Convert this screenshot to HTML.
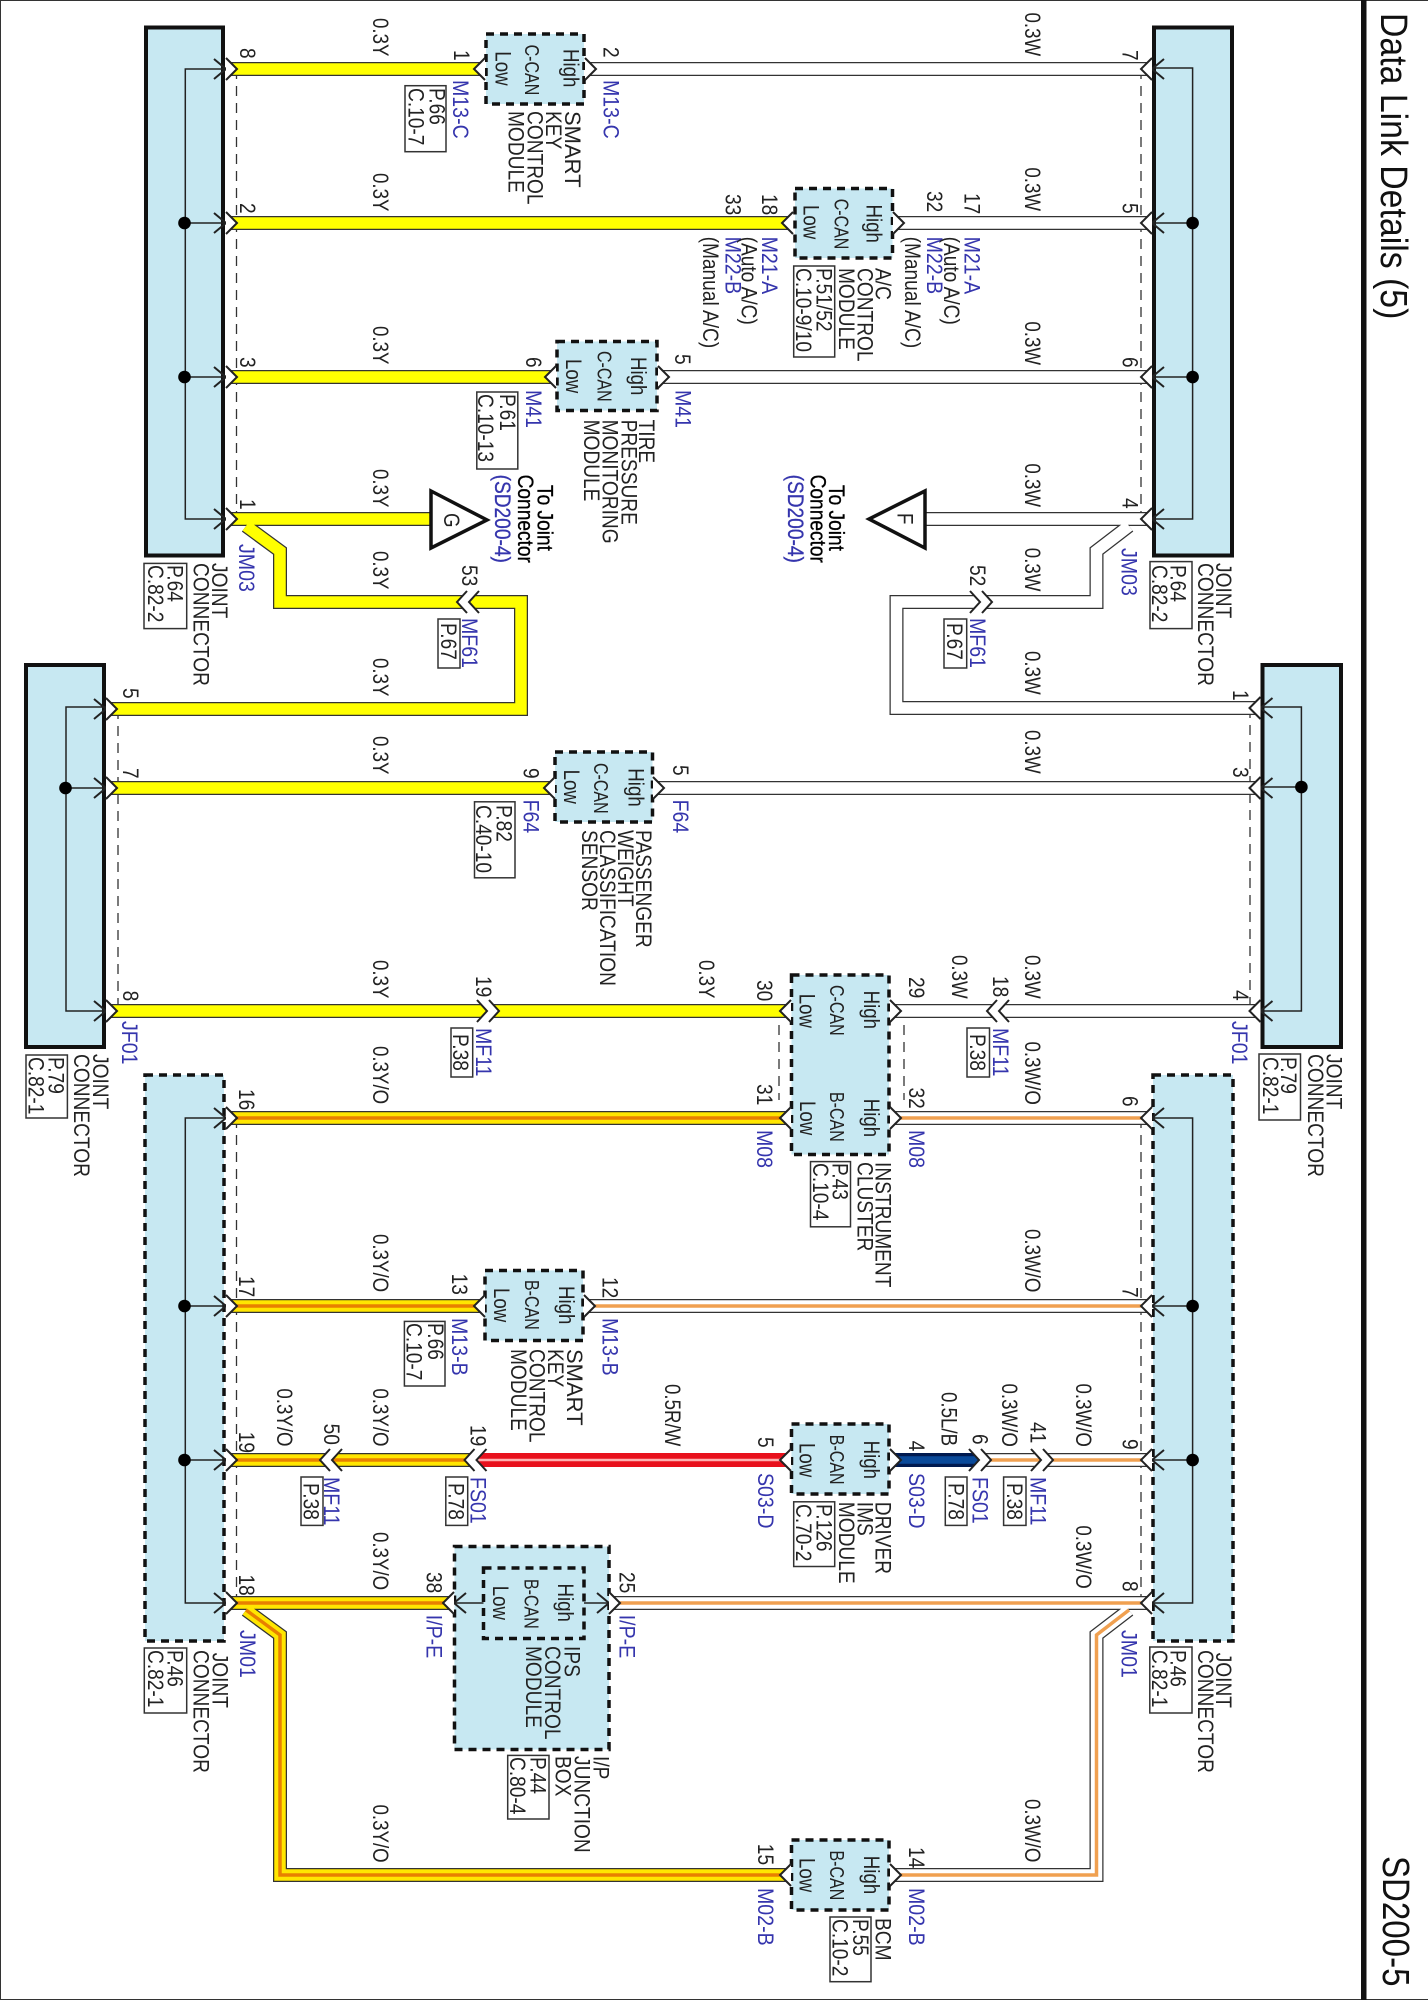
<!DOCTYPE html>
<html><head><meta charset="utf-8"><title>Data Link Details (5)</title>
<style>
html,body{margin:0;padding:0;background:#fff}
svg{display:block}
text{font-family:"Liberation Sans",sans-serif;font-size:22px;fill:#222}
.b{fill:#3535ad}
.s{font-size:20px}
.h{font-size:38px;fill:#111}
.k{fill:#000;stroke:#000;stroke-width:.3}
.c{fill:#c7e8f2;stroke:#111;stroke-width:4}
.d{fill:#c7e8f2;stroke:#111;stroke-width:3.5;stroke-dasharray:8 6}
.r{fill:#fff;stroke:#333;stroke-width:1.5}
.l{fill:none;stroke:#222;stroke-width:1.5}
.q{fill:none;stroke:#333;stroke-width:1.3;stroke-dasharray:10 7}
</style></head><body>
<svg xmlns="http://www.w3.org/2000/svg" width="1428" height="2000" viewBox="0 0 1428 2000">
<defs>
<g id="kL"><path d="M0-11L-11 0L0 11Z" fill="#fff"/><path d="M0-11L-11 0L0 11" fill="none" stroke="#222" stroke-width="2"/></g>
<g id="kR"><path d="M0-11L11 0L0 11Z" fill="#fff"/><path d="M0-11L11 0L0 11" fill="none" stroke="#222" stroke-width="2"/></g>
<path id="aR" d="M-12-10L0 0L-12 10" fill="none" stroke="#222" stroke-width="2"/>
<path id="aL" d="M12-10L0 0L12 10" fill="none" stroke="#222" stroke-width="2"/>
<g id="dL"><path d="M0 0L10-11H22L12 0L22 11H10Z" fill="#fff"/><path d="M10-11L0 0L10 11M22-11L12 0L22 11" fill="none" stroke="#222" stroke-width="2"/></g>
<g id="dR"><path d="M0 0L-10-11H2L12 0L2 11H-10Z" fill="#fff"/><path d="M-10-11L0 0L-10 11M2-11L12 0L2 11" fill="none" stroke="#222" stroke-width="2"/></g>
<g id="Y" fill="none"><path d="M228 69H485M228 223H793M228 377H556M228 519H431M246 526L280 551V602H467M469 602H521V709H108M108 788H555M108 1011H791"/></g>
<g id="YO" fill="none"><path d="M228 1118H791M228 1306H485M228 1460H474.5M228 1603H454M246 1610L280 1635V1875H791"/></g>
<g id="W" fill="none"><path d="M585 69H1150M893 223H1150M658 377H1150M925 519H1150M1129 526L1096.5 551V602H980M982 602H896.5V708H1258M653 788H1258M890 1011H1258"/></g>
<g id="WO" fill="none"><path d="M890 1118H1150M584 1306H1150M981 1460H1150M609 1603H1150M890 1875H1096.5V1635L1129 1610"/></g>
</defs>
<rect width="1428" height="2000" fill="#fff"/>
<path d="M0 .5H1428M.5 0V2000M0 1999.5H1428" stroke="#333" fill="none"/>
<rect x="1361" y="0" width="5.5" height="2000" fill="#111"/>

<!-- dashed pin guides -->
<path class="q" d="M236.5 69V519M1141 69V519M118 709V1011M1250 708V1011M236.5 1118V1603M1141 1118V1603M779 1025V1100M904 1025V1100"/>

<!-- wires -->
<use href="#Y" stroke="#333" stroke-width="14"/><use href="#Y" stroke="#ffff00" stroke-width="11.5"/>
<use href="#YO" stroke="#333" stroke-width="14"/><use href="#YO" stroke="#ffe600" stroke-width="11.5"/><use href="#YO" stroke="#e88000" stroke-width="3.5"/>
<use href="#W" stroke="#333" stroke-width="14"/><use href="#W" stroke="#fff" stroke-width="11.5"/>
<use href="#WO" stroke="#333" stroke-width="14"/><use href="#WO" stroke="#fff" stroke-width="11.5"/><use href="#WO" stroke="#f0a050" stroke-width="3.5"/>
<path d="M476 1460H791" stroke="#e8101c" stroke-width="14" fill="none"/><path d="M476 1460H791" stroke="#ffb0b0" stroke-width="2.5" fill="none"/>
<path d="M890 1460H979" stroke="#001a50" stroke-width="14" fill="none"/><path d="M890 1460H979" stroke="#0a4a9a" stroke-width="7.5" fill="none"/>

<!-- connector blocks -->
<rect class="c" x="146" y="27.5" width="77" height="528"/>
<rect class="c" x="1154" y="27.5" width="78" height="528"/>
<rect class="c" x="26" y="665" width="78" height="382"/>
<rect class="c" x="1262.5" y="665" width="78.5" height="382"/>
<rect class="d" x="145" y="1075" width="79" height="566"/>
<rect class="d" x="1153" y="1075" width="80" height="566"/>

<!-- modules -->
<rect class="d" x="486" y="34" width="98" height="70"/>
<rect class="d" x="795" y="188.5" width="97.500" height="69.500"/>
<rect class="d" x="557" y="341.500" width="100" height="69"/>
<rect class="d" x="555" y="752" width="97.500" height="70"/>
<rect class="d" x="791.500" y="975" width="97.500" height="179.500"/>
<rect class="d" x="485" y="1270.500" width="98" height="70"/>
<rect class="d" x="791.500" y="1424" width="97.500" height="70"/>
<rect class="d" x="454.500" y="1546.500" width="154.500" height="203"/>
<rect class="d" x="483.500" y="1568" width="100.500" height="70.500"/>
<rect class="d" x="791.500" y="1840" width="97.500" height="70"/>

<!-- internal bus lines -->
<path class="l" d="M226 69H185.300V519H226M185.300 223H226M185.300 377H226"/>
<path class="l" d="M1152 68H1192.600V519H1152M1192.600 223H1152M1192.600 377H1152"/>
<path class="l" d="M106 707H66V1011H106M66 788H106"/>
<path class="l" d="M1260.500 707H1301.400V1011H1260.500M1301.400 787H1260.500"/>
<path class="l" d="M226 1118H185.300V1603H226M185.300 1306H226M185.300 1460H226"/>
<path class="l" d="M1152 1118H1192.600V1603H1152M1192.600 1306H1152M1192.600 1460H1152"/>
<path class="l" d="M483.500 1603H454M584 1603H609"/>
<g fill="#000">
<circle cx="184.500" cy="223" r="6.300"/><circle cx="184.500" cy="377" r="6.300"/>
<circle cx="1192.600" cy="223" r="6.300"/><circle cx="1192.600" cy="377" r="6.300"/>
<circle cx="65.500" cy="788" r="6.300"/><circle cx="1301.400" cy="787" r="6.300"/>
<circle cx="184.500" cy="1306" r="6.300"/><circle cx="184.500" cy="1460" r="6.300"/>
<circle cx="1192.600" cy="1306" r="6.300"/><circle cx="1192.600" cy="1460" r="6.300"/>
</g>

<!-- pins -->
<use href="#aR" x="226" y="69"/><use href="#kR" x="226" y="69"/>
<use href="#aR" x="226" y="223"/><use href="#kR" x="226" y="223"/>
<use href="#aR" x="226" y="377"/><use href="#kR" x="226" y="377"/>
<use href="#aR" x="226" y="519"/><use href="#kR" x="226" y="519"/>
<use href="#aL" x="1152" y="69"/><use href="#kL" x="1152" y="69"/>
<use href="#aL" x="1152" y="223"/><use href="#kL" x="1152" y="223"/>
<use href="#aL" x="1152" y="377"/><use href="#kL" x="1152" y="377"/>
<use href="#aL" x="1152" y="519"/><use href="#kL" x="1152" y="519"/>
<use href="#aR" x="106" y="709"/><use href="#kR" x="106" y="709"/>
<use href="#aR" x="106" y="788"/><use href="#kR" x="106" y="788"/>
<use href="#aR" x="106" y="1011"/><use href="#kR" x="106" y="1011"/>
<use href="#aL" x="1260.500" y="708"/><use href="#kL" x="1260.500" y="708"/>
<use href="#aL" x="1260.500" y="788"/><use href="#kL" x="1260.500" y="788"/>
<use href="#aL" x="1260.500" y="1011"/><use href="#kL" x="1260.500" y="1011"/>
<use href="#aR" x="226" y="1118"/><use href="#kR" x="226" y="1118"/>
<use href="#aR" x="226" y="1306"/><use href="#kR" x="226" y="1306"/>
<use href="#aR" x="226" y="1460"/><use href="#kR" x="226" y="1460"/>
<use href="#aR" x="226" y="1603"/><use href="#kR" x="226" y="1603"/>
<use href="#aL" x="1152" y="1118"/><use href="#kL" x="1152" y="1118"/>
<use href="#aL" x="1152" y="1306"/><use href="#kL" x="1152" y="1306"/>
<use href="#aL" x="1152" y="1460"/><use href="#kL" x="1152" y="1460"/>
<use href="#aL" x="1152" y="1603"/><use href="#kL" x="1152" y="1603"/>
<use href="#kL" x="485" y="69"/><use href="#kR" x="585" y="69"/>
<use href="#kL" x="793" y="223"/><use href="#kR" x="893" y="223"/>
<use href="#kL" x="556" y="377"/><use href="#kR" x="658" y="377"/>
<use href="#kL" x="555" y="788"/><use href="#kR" x="653" y="788"/>
<use href="#kL" x="791" y="1011"/><use href="#kR" x="890" y="1011"/>
<use href="#kL" x="791" y="1118"/><use href="#kR" x="890" y="1118"/>
<use href="#kL" x="485" y="1306"/><use href="#kR" x="584" y="1306"/>
<use href="#kL" x="791" y="1460"/><use href="#kR" x="890" y="1460"/>
<use href="#aL" x="454" y="1603"/><use href="#kL" x="454" y="1603"/>
<use href="#aR" x="609" y="1603"/><use href="#kR" x="609" y="1603"/>
<use href="#kL" x="791" y="1875"/><use href="#kR" x="890" y="1875"/>

<!-- inline connectors -->
<use href="#dL" x="457" y="602"/><use href="#dR" x="980" y="602"/>
<use href="#dR" x="487" y="1011"/><use href="#dL" x="987" y="1011"/>
<use href="#dL" x="320" y="1460"/><use href="#dL" x="464.500" y="1460"/>
<use href="#dR" x="979" y="1460"/><use href="#dR" x="1041" y="1460"/>

<!-- triangles -->
<path d="M431 491L487 520L431 548Z" fill="#fff" stroke="#111" stroke-width="3.500"/>
<path d="M925 491L869 519L925 548Z" fill="#fff" stroke="#111" stroke-width="3.500"/>

<!-- reference boxes -->
<rect class="r" x="405" y="85.700" width="41" height="66"/>
<rect class="r" x="793.700" y="266" width="41" height="91"/>
<rect class="r" x="476.800" y="392" width="41" height="77"/>
<rect class="r" x="144" y="563.400" width="42.700" height="65.200"/>
<rect class="r" x="1150" y="561.600" width="42" height="67"/>
<rect class="r" x="438" y="619" width="22" height="49"/>
<rect class="r" x="944" y="619" width="22.700" height="49"/>
<rect class="r" x="474.500" y="801.800" width="40.500" height="76"/>
<rect class="r" x="451" y="1028" width="21.700" height="49"/>
<rect class="r" x="967" y="1028" width="22.500" height="49"/>
<rect class="r" x="26" y="1055" width="41.400" height="63"/>
<rect class="r" x="1259" y="1054" width="41.500" height="66"/>
<rect class="r" x="810.500" y="1161.600" width="40" height="65.200"/>
<rect class="r" x="404.400" y="1321.400" width="40.600" height="64.600"/>
<rect class="r" x="301" y="1477" width="22" height="48.400"/>
<rect class="r" x="445.800" y="1477" width="21.900" height="48.400"/>
<rect class="r" x="945.300" y="1477" width="21.700" height="48.400"/>
<rect class="r" x="1003.600" y="1477" width="22.400" height="48.400"/>
<rect class="r" x="793.700" y="1501.800" width="41" height="64.700"/>
<rect class="r" x="144.300" y="1648" width="42.400" height="65"/>
<rect class="r" x="1149.800" y="1647" width="42.200" height="66"/>
<rect class="r" x="507.700" y="1755.400" width="41.300" height="63.600"/>
<rect class="r" x="830" y="1917" width="41" height="64.700"/>

<!-- title -->
<text class="h" transform="matrix(0 .89 -1 0 1381 13)">Data Link Details (5)</text>
<text class="h" transform="matrix(0 .87 -1 0 1383 1856)">SD200-5</text>

<!-- wire size labels -->
<text transform="matrix(0 .85 -1 0 373 18)">0.3Y</text>
<text transform="matrix(0 .85 -1 0 373 173)">0.3Y</text>
<text transform="matrix(0 .85 -1 0 373 326)">0.3Y</text>
<text transform="matrix(0 .85 -1 0 373 469)">0.3Y</text>
<text transform="matrix(0 .85 -1 0 373 551)">0.3Y</text>
<text transform="matrix(0 .85 -1 0 373 658)">0.3Y</text>
<text transform="matrix(0 .85 -1 0 373 736)">0.3Y</text>
<text transform="matrix(0 .85 -1 0 373 960)">0.3Y</text>
<text transform="matrix(0 .85 -1 0 699 960)">0.3Y</text>
<text transform="matrix(0 .85 -1 0 1025 12.500)">0.3W</text>
<text transform="matrix(0 .85 -1 0 1025 167.400)">0.3W</text>
<text transform="matrix(0 .85 -1 0 1025 321.400)">0.3W</text>
<text transform="matrix(0 .85 -1 0 1025 463.400)">0.3W</text>
<text transform="matrix(0 .85 -1 0 1025 547.800)">0.3W</text>
<text transform="matrix(0 .85 -1 0 1025 651)">0.3W</text>
<text transform="matrix(0 .85 -1 0 1025 730)">0.3W</text>
<text transform="matrix(0 .85 -1 0 1025 955)">0.3W</text>
<text transform="matrix(0 .85 -1 0 952 955)">0.3W</text>
<text transform="matrix(0 .85 -1 0 373 1046)">0.3Y/O</text>
<text transform="matrix(0 .85 -1 0 1025 1041.500)">0.3W/O</text>
<text transform="matrix(0 .85 -1 0 373 1234)">0.3Y/O</text>
<text transform="matrix(0 .85 -1 0 1025 1229)">0.3W/O</text>
<text transform="matrix(0 .85 -1 0 277 1388.400)">0.3Y/O</text>
<text transform="matrix(0 .85 -1 0 373 1388.400)">0.3Y/O</text>
<text transform="matrix(0 .85 -1 0 665 1384)">0.5R/W</text>
<text transform="matrix(0 .85 -1 0 941.700 1392)">0.5L/B</text>
<text transform="matrix(0 .85 -1 0 1001.800 1383.500)">0.3W/O</text>
<text transform="matrix(0 .85 -1 0 1076 1383.500)">0.3W/O</text>
<text transform="matrix(0 .85 -1 0 1076 1525.400)">0.3W/O</text>
<text transform="matrix(0 .85 -1 0 373 1532)">0.3Y/O</text>
<text transform="matrix(0 .85 -1 0 373 1804.500)">0.3Y/O</text>
<text transform="matrix(0 .85 -1 0 1025 1799)">0.3W/O</text>

<!-- pin numbers -->
<text transform="matrix(0 .87 -1 0 240 48)">8</text>
<text transform="matrix(0 .87 -1 0 240 203)">2</text>
<text transform="matrix(0 .87 -1 0 240 357)">3</text>
<text transform="matrix(0 .87 -1 0 240 499)">1</text>
<text transform="matrix(0 .87 -1 0 454 50)">1</text>
<text transform="matrix(0 .87 -1 0 603.500 47)">2</text>
<text transform="matrix(0 .87 -1 0 1122.500 50)">7</text>
<text transform="matrix(0 .87 -1 0 1122.500 203)">5</text>
<text transform="matrix(0 .87 -1 0 1122.500 357)">6</text>
<text transform="matrix(0 .87 -1 0 1122.500 498)">4</text>
<text transform="matrix(0 .87 -1 0 761.800 194)">18</text>
<text transform="matrix(0 .87 -1 0 725.400 194)">33</text>
<text transform="matrix(0 .87 -1 0 927 191)">32</text>
<text transform="matrix(0 .87 -1 0 964.500 193)">17</text>
<text transform="matrix(0 .87 -1 0 526 357)">6</text>
<text transform="matrix(0 .87 -1 0 675 354)">5</text>
<text transform="matrix(0 .87 -1 0 462 565)">53</text>
<text transform="matrix(0 .87 -1 0 970 565)">52</text>
<text transform="matrix(0 .87 -1 0 123 688)">5</text>
<text transform="matrix(0 .87 -1 0 123 768)">7</text>
<text transform="matrix(0 .87 -1 0 123 990.600)">8</text>
<text transform="matrix(0 .87 -1 0 1233 690)">1</text>
<text transform="matrix(0 .87 -1 0 1233 767)">3</text>
<text transform="matrix(0 .87 -1 0 1233 990)">4</text>
<text transform="matrix(0 .87 -1 0 523.700 768)">9</text>
<text transform="matrix(0 .87 -1 0 673 765)">5</text>
<text transform="matrix(0 .87 -1 0 476 976)">19</text>
<text transform="matrix(0 .87 -1 0 993 976)">18</text>
<text transform="matrix(0 .87 -1 0 757 980)">30</text>
<text transform="matrix(0 .87 -1 0 757 1084)">31</text>
<text transform="matrix(0 .87 -1 0 909 977)">29</text>
<text transform="matrix(0 .87 -1 0 909 1087.500)">32</text>
<text transform="matrix(0 .87 -1 0 239 1089)">16</text>
<text transform="matrix(0 .87 -1 0 1122.500 1096)">6</text>
<text transform="matrix(0 .87 -1 0 239 1276)">17</text>
<text transform="matrix(0 .87 -1 0 1122.500 1287)">7</text>
<text transform="matrix(0 .87 -1 0 452 1273.600)">13</text>
<text transform="matrix(0 .87 -1 0 602.500 1277)">12</text>
<text transform="matrix(0 .87 -1 0 239 1431.700)">19</text>
<text transform="matrix(0 .87 -1 0 324 1423.600)">50</text>
<text transform="matrix(0 .87 -1 0 470.400 1425)">19</text>
<text transform="matrix(0 .87 -1 0 758 1437)">5</text>
<text transform="matrix(0 .87 -1 0 909 1440.600)">4</text>
<text transform="matrix(0 .87 -1 0 972.600 1434)">6</text>
<text transform="matrix(0 .87 -1 0 1030.500 1422)">41</text>
<text transform="matrix(0 .87 -1 0 1122.500 1439)">9</text>
<text transform="matrix(0 .87 -1 0 239 1574.500)">18</text>
<text transform="matrix(0 .87 -1 0 426.700 1572)">38</text>
<text transform="matrix(0 .87 -1 0 619.300 1572)">25</text>
<text transform="matrix(0 .87 -1 0 1122.500 1581)">8</text>
<text transform="matrix(0 .87 -1 0 758 1843.800)">15</text>
<text transform="matrix(0 .87 -1 0 909 1847)">14</text>

<!-- blue connector ids -->
<text class="b" transform="matrix(0 .89 -1 0 453 80)">M13-C</text>
<text class="b" transform="matrix(0 .89 -1 0 603.500 80)">M13-C</text>
<text class="b" transform="matrix(0 .89 -1 0 761.800 236.600)">M21-A</text>
<text class="b" transform="matrix(0 .89 -1 0 725.400 236.600)">M22-B</text>
<text class="b" transform="matrix(0 .89 -1 0 964.500 236.600)">M21-A</text>
<text class="b" transform="matrix(0 .89 -1 0 927 236.600)">M22-B</text>
<text class="b" transform="matrix(0 .89 -1 0 526 390)">M41</text>
<text class="b" transform="matrix(0 .89 -1 0 675.300 390)">M41</text>
<text class="b" transform="matrix(0 .89 -1 0 239 544)">JM03</text>
<text class="b" transform="matrix(0 .89 -1 0 1121.600 548)">JM03</text>
<text class="b" style="stroke:#3535ad;stroke-width:.3" transform="matrix(0 .87 -1 0 495 474.600)">(SD200-4)</text>
<text class="b" style="stroke:#3535ad;stroke-width:.3" transform="matrix(0 .87 -1 0 788 474.600)">(SD200-4)</text>
<text class="b" transform="matrix(0 .89 -1 0 462 618)">MF61</text>
<text class="b" transform="matrix(0 .89 -1 0 970 618)">MF61</text>
<text class="b" transform="matrix(0 .89 -1 0 523.700 799.600)">F64</text>
<text class="b" transform="matrix(0 .89 -1 0 673 799.600)">F64</text>
<text class="b" transform="matrix(0 .89 -1 0 122 1021)">JF01</text>
<text class="b" transform="matrix(0 .89 -1 0 1232 1021)">JF01</text>
<text class="b" transform="matrix(0 .89 -1 0 476 1028)">MF11</text>
<text class="b" transform="matrix(0 .89 -1 0 993 1028)">MF11</text>
<text class="b" transform="matrix(0 .89 -1 0 757 1130)">M08</text>
<text class="b" transform="matrix(0 .89 -1 0 909 1130)">M08</text>
<text class="b" transform="matrix(0 .89 -1 0 452 1318)">M13-B</text>
<text class="b" transform="matrix(0 .89 -1 0 602.500 1318)">M13-B</text>
<text class="b" transform="matrix(0 .89 -1 0 324 1477)">MF11</text>
<text class="b" transform="matrix(0 .89 -1 0 470.400 1477)">FS01</text>
<text class="b" transform="matrix(0 .89 -1 0 758 1473)">S03-D</text>
<text class="b" transform="matrix(0 .89 -1 0 909 1473)">S03-D</text>
<text class="b" transform="matrix(0 .89 -1 0 972.600 1477)">FS01</text>
<text class="b" transform="matrix(0 .89 -1 0 1030.500 1477)">MF11</text>
<text class="b" transform="matrix(0 .89 -1 0 426.700 1614.700)">I/P-E</text>
<text class="b" transform="matrix(0 .89 -1 0 619.300 1614.700)">I/P-E</text>
<text class="b" transform="matrix(0 .89 -1 0 240 1630)">JM01</text>
<text class="b" transform="matrix(0 .89 -1 0 1121.600 1630)">JM01</text>
<text class="b" transform="matrix(0 .89 -1 0 758 1888)">M02-B</text>
<text class="b" transform="matrix(0 .89 -1 0 909 1888)">M02-B</text>

<!-- module inner labels -->
<text transform="matrix(0 .85 -1 0 563.300 49)">High</text><text class="s" transform="matrix(0 .8 -1 0 525 44.600)">C-CAN</text><text transform="matrix(0 .85 -1 0 495.500 51.300)">Low</text>
<text transform="matrix(0 .85 -1 0 866.500 204.500)">High</text><text class="s" transform="matrix(0 .8 -1 0 834.700 198.700)">C-CAN</text><text transform="matrix(0 .85 -1 0 803.700 205)">Low</text>
<text transform="matrix(0 .85 -1 0 631 357)">High</text><text class="s" transform="matrix(0 .8 -1 0 597.500 351)">C-CAN</text><text transform="matrix(0 .85 -1 0 566 359)">Low</text>
<text transform="matrix(0 .85 -1 0 628.400 768.300)">High</text><text class="s" transform="matrix(0 .8 -1 0 594 763)">C-CAN</text><text transform="matrix(0 .85 -1 0 563.800 769.600)">Low</text>
<text transform="matrix(0 .85 -1 0 864 990.600)">High</text><text class="s" transform="matrix(0 .8 -1 0 830 985)">C-CAN</text><text transform="matrix(0 .85 -1 0 799.600 993.700)">Low</text>
<text transform="matrix(0 .85 -1 0 864 1098.700)">High</text><text class="s" transform="matrix(0 .8 -1 0 830 1092)">B-CAN</text><text transform="matrix(0 .85 -1 0 800 1101)">Low</text>
<text transform="matrix(0 .85 -1 0 559 1286)">High</text><text class="s" transform="matrix(0 .8 -1 0 525 1280)">B-CAN</text><text transform="matrix(0 .85 -1 0 494 1288)">Low</text>
<text transform="matrix(0 .85 -1 0 864 1440.600)">High</text><text class="s" transform="matrix(0 .8 -1 0 830 1434.800)">B-CAN</text><text transform="matrix(0 .85 -1 0 799.600 1443)">Low</text>
<text transform="matrix(0 .85 -1 0 558 1583.500)">High</text><text class="s" transform="matrix(0 .8 -1 0 524.600 1579)">B-CAN</text><text transform="matrix(0 .85 -1 0 493 1585.700)">Low</text>
<text transform="matrix(0 .85 -1 0 864 1855.800)">High</text><text class="s" transform="matrix(0 .8 -1 0 830 1850.500)">B-CAN</text><text transform="matrix(0 .85 -1 0 799.600 1858)">Low</text>
<text transform="matrix(0 .85 -1 0 444 513)">G</text>
<text transform="matrix(0 .85 -1 0 897.500 513)">F</text>

<!-- component names -->
<text transform="matrix(0 1 -1 0 565 111)">SMART</text><text transform="matrix(0 .87 -1 0 546 111)">KEY</text><text transform="matrix(0 .87 -1 0 527.500 111)">CONTROL</text><text transform="matrix(0 .87 -1 0 508.700 111)">MODULE</text>
<text transform="matrix(0 .87 -1 0 875.700 268)">A/C</text><text transform="matrix(0 .87 -1 0 857.400 268)">CONTROL</text><text transform="matrix(0 .87 -1 0 839 268)">MODULE</text>
<text transform="matrix(0 .87 -1 0 639 419.600)">TIRE</text><text transform="matrix(0 .87 -1 0 621.600 419.600)">PRESSURE</text><text transform="matrix(0 .87 -1 0 602.500 419.600)">MONITORING</text><text transform="matrix(0 .87 -1 0 584 419.600)">MODULE</text>
<text class="k" transform="matrix(0 .87 -1 0 537.300 485)">To Joint</text><text class="k" transform="matrix(0 .87 -1 0 517.800 474.600)">Connector</text>
<text class="k" transform="matrix(0 .87 -1 0 829 485)">To Joint</text><text class="k" transform="matrix(0 .87 -1 0 810.500 474.600)">Connector</text>
<text transform="matrix(0 .87 -1 0 944 236.600)">(Auto A/C)</text><text transform="matrix(0 .87 -1 0 905 236.600)">(Manual A/C)</text>
<text transform="matrix(0 .87 -1 0 741.300 236.600)">(Auto A/C)</text><text transform="matrix(0 .87 -1 0 703 236.600)">(Manual A/C)</text>
<text transform="matrix(0 .87 -1 0 212 563)">JOINT</text><text transform="matrix(0 .87 -1 0 193.500 563)">CONNECTOR</text>
<text transform="matrix(0 .87 -1 0 1216 563)">JOINT</text><text transform="matrix(0 .87 -1 0 1198 563)">CONNECTOR</text>
<text transform="matrix(0 .87 -1 0 93 1054)">JOINT</text><text transform="matrix(0 .87 -1 0 74 1054)">CONNECTOR</text>
<text transform="matrix(0 .87 -1 0 1326.500 1054)">JOINT</text><text transform="matrix(0 .87 -1 0 1308 1054)">CONNECTOR</text>
<text transform="matrix(0 .87 -1 0 636 830)">PASSENGER</text><text transform="matrix(0 .87 -1 0 618 830)">WEIGHT</text><text transform="matrix(0 .87 -1 0 600 830)">CLASSIFICATION</text><text transform="matrix(0 .87 -1 0 582 830)">SENSOR</text>
<text transform="matrix(0 .87 -1 0 875.700 1162)">INSTRUMENT</text><text transform="matrix(0 .87 -1 0 857.400 1162)">CLUSTER</text>
<text transform="matrix(0 1 -1 0 567 1349)">SMART</text><text transform="matrix(0 .87 -1 0 548 1349)">KEY</text><text transform="matrix(0 .87 -1 0 529.600 1349)">CONTROL</text><text transform="matrix(0 .87 -1 0 511 1349)">MODULE</text>
<text transform="matrix(0 .87 -1 0 875.700 1501.800)">DRIVER</text><text transform="matrix(0 .87 -1 0 857.400 1501.800)">IMS</text><text transform="matrix(0 .87 -1 0 839 1501.800)">MODULE</text>
<text transform="matrix(0 .87 -1 0 564.600 1646)">IPS</text><text transform="matrix(0 .87 -1 0 545 1646)">CONTROL</text><text transform="matrix(0 .87 -1 0 526 1646)">MODULE</text>
<text transform="matrix(0 .87 -1 0 593.400 1756)">I/P</text><text transform="matrix(0 .87 -1 0 574.700 1756)">JUNCTION</text><text transform="matrix(0 .87 -1 0 555.600 1756)">BOX</text>
<text transform="matrix(0 .87 -1 0 212.600 1652.700)">JOINT</text><text transform="matrix(0 .87 -1 0 193.500 1650)">CONNECTOR</text>
<text transform="matrix(0 .87 -1 0 1216 1652.700)">JOINT</text><text transform="matrix(0 .87 -1 0 1198 1650)">CONNECTOR</text>
<text transform="matrix(0 .87 -1 0 875.700 1918)">BCM</text>

<!-- reference box text -->
<text transform="matrix(0 .87 -1 0 429.400 88)">P.66</text><text transform="matrix(0 .87 -1 0 408.500 88)">C.10-7</text>
<text transform="matrix(0 .87 -1 0 816.500 268)">P.51/52</text><text transform="matrix(0 .87 -1 0 796 268)">C.10-9/10</text>
<text transform="matrix(0 .87 -1 0 500 394)">P.61</text><text transform="matrix(0 .87 -1 0 478 394)">C.10-13</text>
<text transform="matrix(0 .87 -1 0 167.600 565)">P.64</text><text transform="matrix(0 .87 -1 0 148 565)">C.82-2</text>
<text transform="matrix(0 .87 -1 0 1170.700 565)">P.64</text><text transform="matrix(0 .87 -1 0 1152 565)">C.82-2</text>
<text transform="matrix(0 .87 -1 0 441 623)">P.67</text>
<text transform="matrix(0 .87 -1 0 947 623)">P.67</text>
<text transform="matrix(0 .87 -1 0 496.400 805)">P.82</text><text transform="matrix(0 .87 -1 0 476 805)">C.40-10</text>
<text transform="matrix(0 .87 -1 0 453 1034)">P.38</text>
<text transform="matrix(0 .87 -1 0 970 1034)">P.38</text>
<text transform="matrix(0 .87 -1 0 48.700 1057)">P.79</text><text transform="matrix(0 .87 -1 0 28.700 1057)">C.82-1</text>
<text transform="matrix(0 .87 -1 0 1281 1057)">P.79</text><text transform="matrix(0 .87 -1 0 1263 1057)">C.82-1</text>
<text transform="matrix(0 .87 -1 0 832.400 1163)">P.43</text><text transform="matrix(0 .87 -1 0 812.800 1163)">C.10-4</text>
<text transform="matrix(0 .87 -1 0 428 1323)">P.66</text><text transform="matrix(0 .87 -1 0 406.600 1323)">C.10-7</text>
<text transform="matrix(0 .87 -1 0 303.700 1483)">P.38</text>
<text transform="matrix(0 .87 -1 0 448.500 1483)">P.78</text>
<text transform="matrix(0 .87 -1 0 948.500 1483)">P.78</text>
<text transform="matrix(0 .87 -1 0 1006.800 1483)">P.38</text>
<text transform="matrix(0 .87 -1 0 816.500 1504)">P.126</text><text transform="matrix(0 .87 -1 0 796 1504)">C.70-2</text>
<text transform="matrix(0 .87 -1 0 167.600 1650)">P.46</text><text transform="matrix(0 .87 -1 0 148 1650)">C.82-1</text>
<text transform="matrix(0 .87 -1 0 1170.700 1650)">P.46</text><text transform="matrix(0 .87 -1 0 1152 1650)">C.82-1</text>
<text transform="matrix(0 .87 -1 0 530.500 1757)">P.44</text><text transform="matrix(0 .87 -1 0 510 1757)">C.80-4</text>
<text transform="matrix(0 .87 -1 0 853 1919)">P.55</text><text transform="matrix(0 .87 -1 0 832.400 1919)">C.10-2</text>
</svg>
</body></html>
